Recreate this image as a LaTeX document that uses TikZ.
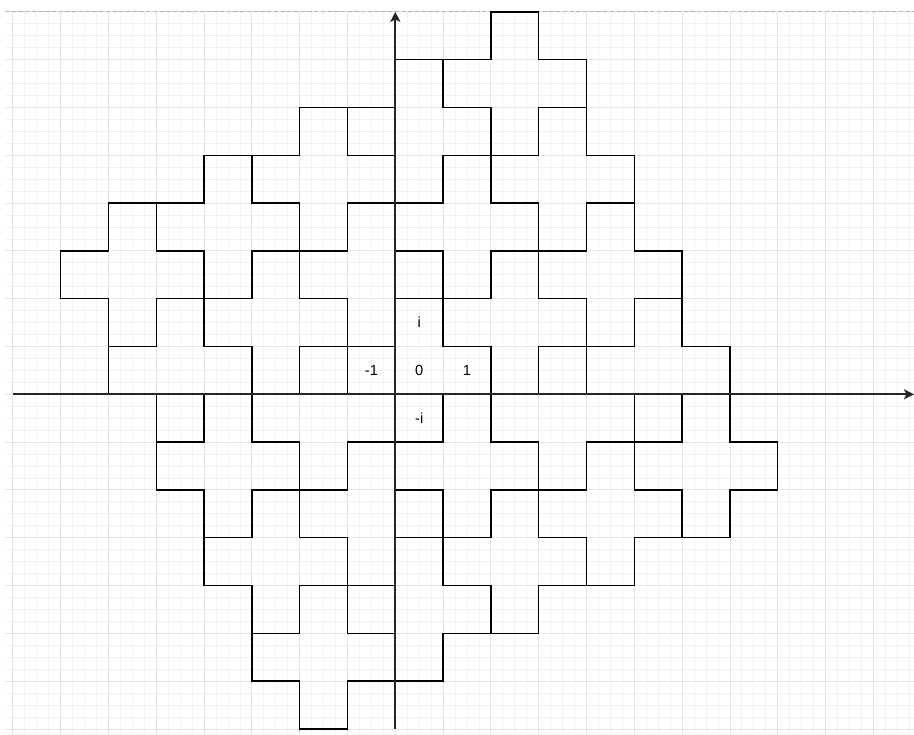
\documentclass[tikz,border=0pt]{standalone}
\usepackage{fontspec}
\setmainfont{Liberation Sans}
\usetikzlibrary{arrows.meta}
\begin{document}
\begin{tikzpicture}[x=1cm,y=1cm,
  minorgrid/.style={draw=gray!10,line width=0.5pt},
  majorgrid/.style={draw=gray!22,line width=0.5pt},
  pageedge/.style={draw=gray!60,line width=0.5pt,dash pattern=on 2.5pt off 1.5pt},
  tile/.style={draw=black,line width=0.8pt,line join=miter},
  axisline/.style={draw=black!85,line width=1pt,-{Stealth[length=6pt,width=6pt,inset=1.5pt]}},
  lbl/.style={font=\fontsize{8.7}{10}\selectfont,text=black,inner sep=0pt}]
\useasboundingbox (-8.270,-7.107) rectangle (10.851,8.249);
% background grid
\begin{scope}
  \clip (-8.165,-7.3) rectangle (11,8);
  \draw[minorgrid,step=0.25] (-8.5,-7.5) grid (11,8);
  \draw[majorgrid,step=1] (-9,-8) grid (11,8);
\end{scope}
\coordinate (pl) at (-8.165,8);
\coordinate (pr) at (10.851,8);
\draw[pageedge] (pl) -- (pr);
% tiles: crosses centred at m(2+i)+n(-1+2i)
\foreach \m in {-2,...,2}{
  \foreach \n in {-2,...,2}{
    \pgfmathsetmacro\cx{2*\m-\n}
    \pgfmathsetmacro\cy{\m+2*\n}
    \draw[tile,shift={(\cx,\cy)}] (0,2) -- (1,2) -- (1,1) -- (2,1) -- (2,0) -- (1,0)
      -- (1,-1) -- (0,-1) -- (0,0) -- (-1,0) -- (-1,1) -- (0,1) -- cycle;
  }
}
% axes
\coordinate (xs) at (-8,0);
\coordinate (xe) at (10.851,0);
\coordinate (ys) at (0,-7);
\coordinate (ye) at (0,8);
\draw[axisline] (xs) -- (xe);
\draw[axisline] (ys) -- (ye);
% labels
\node[lbl] (lzero) at (0.5,0.5) {0};
\node[lbl] (lone) at (1.5,0.5) {1};
\node[lbl] (lmone) at (-0.5,0.5) {-1};
\node[lbl] (li) at (0.5,1.5) {i};
\node[lbl] (lmi) at (0.5,-0.5) {-i};
\end{tikzpicture}
\end{document}
